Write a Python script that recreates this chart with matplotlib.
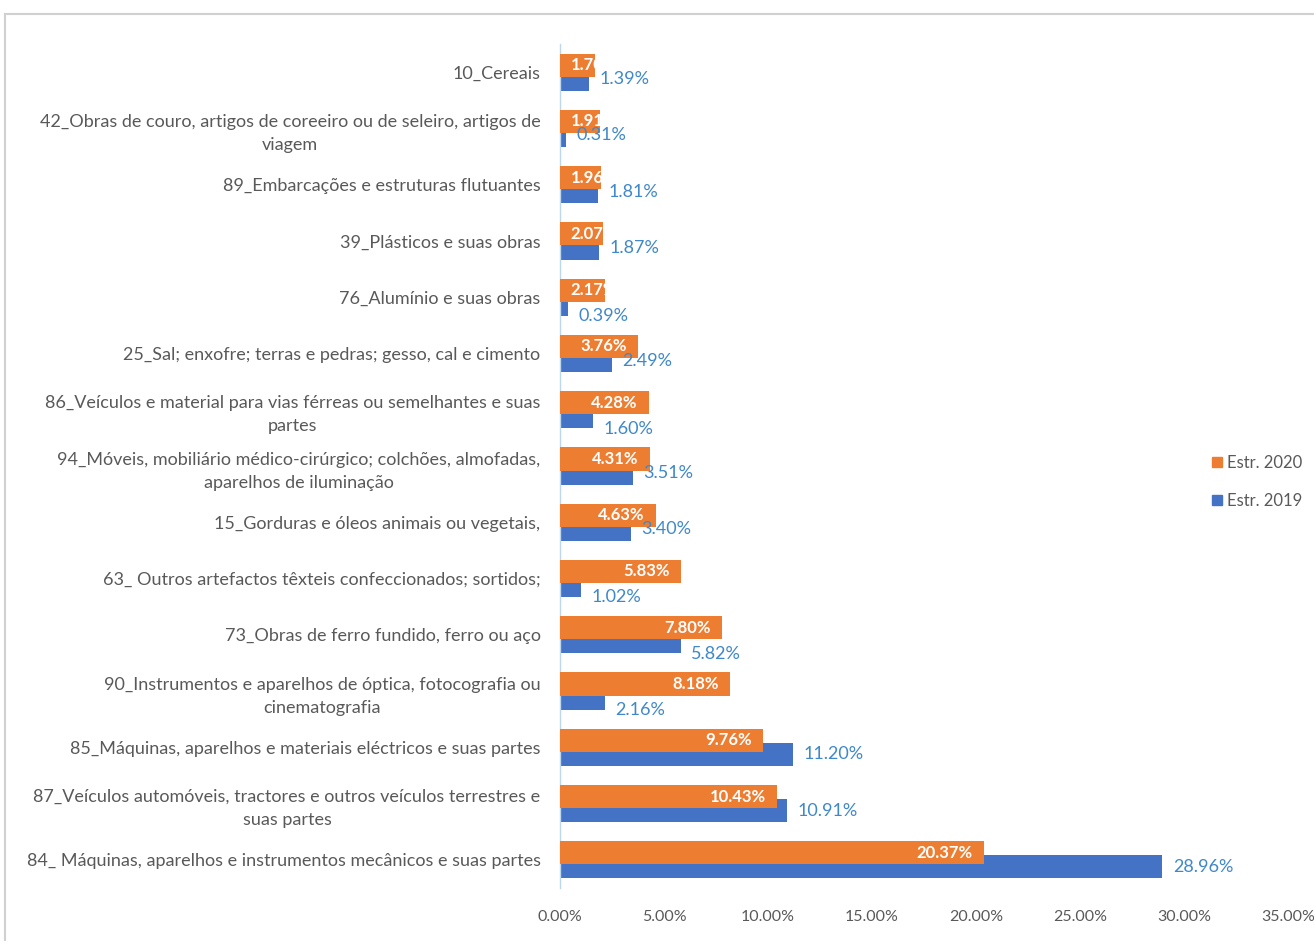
import matplotlib.pyplot as plt
from matplotlib.lines import Line2D
import numpy as np

categories = [
    "10_Cereais",
    "42_Obras de couro, artigos de coreeiro ou de seleiro, artigos de\nviagem",
    "89_Embarcações e estruturas flutuantes",
    "39_Plásticos e suas obras",
    "76_Alumínio e suas obras",
    "25_Sal; enxofre; terras e pedras; gesso, cal e cimento",
    "86_Veículos e material para vias férreas ou semelhantes e suas\npartes",
    "94_Móveis, mobiliário médico-cirúrgico; colchões, almofadas,\naparelhos de iluminação",
    "15_Gorduras e óleos animais ou vegetais,",
    "63_ Outros artefactos têxteis confeccionados; sortidos;",
    "73_Obras de ferro fundido, ferro ou aço",
    "90_Instrumentos e aparelhos de óptica, fotocografia ou\ncinematografia",
    "85_Máquinas, aparelhos e materiais eléctricos e suas partes",
    "87_Veículos automóveis, tractores e outros veículos terrestres e\nsuas partes",
    "84_ Máquinas, aparelhos e instrumentos mecânicos e suas partes",
]
estr_2020 = [1.70, 1.91, 1.96, 2.07, 2.17, 3.76, 4.28, 4.31, 4.63, 5.83, 7.80, 8.18, 9.76, 10.43, 20.37]
estr_2019 = [1.39, 0.31, 1.81, 1.87, 0.39, 2.49, 1.60, 3.51, 3.40, 1.02, 5.82, 2.16, 11.20, 10.91, 28.96]
xticks = [0, 5, 10, 15, 20, 25, 30, 35]

ORANGE = "#ED7D31"
BLUE = "#4472C4"
LBLUE = "#3F88C9"
GRAY = "#595959"

plt.rcParams['font.family'] = ['Lato', 'DejaVu Sans']

fig = plt.figure(figsize=(13.14, 9.41), dpi=100)
ax = fig.add_axes([560 / 1314, 53 / 941, 728 / 1314, 844 / 941])

y = np.arange(len(categories))
h = 0.41
off = 0.125

bars19 = ax.barh(y + off, estr_2019, height=h, color=BLUE, zorder=2)
bars20 = ax.barh(y - off, estr_2020, height=h, color=ORANGE, zorder=3)

# orange labels: white, inside end, clipped to the bar
for b, v in zip(bars20, estr_2020):
    cy = b.get_y() + b.get_height() / 2
    if v < 3:
        t = ax.text(0.5, cy, f"{v:.2f}%", ha="left", va="center", color="white",
                    fontsize=12, fontweight="bold", zorder=4)
    else:
        t = ax.text(v - 0.55, cy, f"{v:.2f}%", ha="right", va="center", color="white",
                    fontsize=12, fontweight="bold", zorder=4)
    t.set_clip_path(b)

# blue labels: outside end, nudged down when the orange bar hides them
for b, v, o in zip(bars19, estr_2019, estr_2020):
    cy = b.get_y() + b.get_height() / 2
    if o - v > 1.7:
        cy += 0.21
    ax.text(v + 0.5, cy, f"{v:.2f}%", ha="left", va="center", color=LBLUE,
            fontsize=13, zorder=5)

ax.set_xlim(0, 35)
ax.set_ylim(len(categories) - 0.5, -0.5)
ax.set_xticks(xticks)
ax.set_xticklabels([f"{t:.2f}%" for t in xticks], color=GRAY, fontsize=11.5)
ax.set_yticks(y)
ax.set_yticklabels(categories, color=GRAY, fontsize=13, multialignment="center",
                   linespacing=1.55)
ax.tick_params(axis="y", length=0, pad=14)
ax.tick_params(axis="x", length=0, pad=16)
for s in ["top", "right", "bottom"]:
    ax.spines[s].set_visible(False)
ax.spines["left"].set_color("#BDD7EE")
ax.spines["left"].set_linewidth(1.0)

handles = [Line2D([], [], marker="s", linestyle="none", color=ORANGE, markersize=7),
           Line2D([], [], marker="s", linestyle="none", color=BLUE, markersize=7)]
fig.legend(handles, ["Estr. 2020", "Estr. 2019"], loc="center left",
           bbox_to_anchor=(1194 / 1314, 1 - 482 / 941), frameon=False,
           fontsize=12, labelcolor=GRAY, handletextpad=0.1, labelspacing=1.3,
           handlelength=1.0)

# light frame around the chart
fig.add_artist(Line2D([5 / 1314, 5 / 1314], [0, 1 - 14 / 941], color="#D0D0D0", lw=1.5))
fig.add_artist(Line2D([5 / 1314, 1], [1 - 14 / 941, 1 - 14 / 941], color="#D0D0D0", lw=1.5))

fig.savefig("out.png", dpi=100)
